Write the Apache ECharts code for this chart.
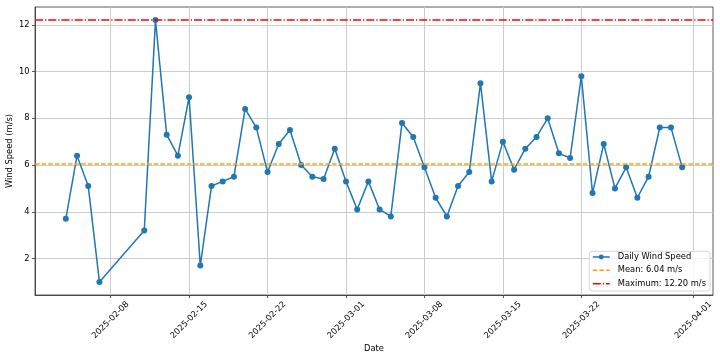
<!DOCTYPE html>
<html>
<head>
<meta charset="utf-8">
<script src="https://cdn.jsdelivr.net/npm/echarts@6/dist/echarts.min.js"></script>
<style>
html,body{margin:0;padding:0;background:#fff;}
#chart{width:720px;height:360px;}
</style>
</head>
<body>
<div id="chart"></div>
<script>
// ---- data ----
var dates = [
  '2025-02-04','2025-02-05','2025-02-06','2025-02-07',
  '2025-02-11','2025-02-12','2025-02-13','2025-02-14','2025-02-15','2025-02-16','2025-02-17',
  '2025-02-18','2025-02-19','2025-02-20','2025-02-21','2025-02-22','2025-02-23','2025-02-24',
  '2025-02-25','2025-02-26','2025-02-27','2025-02-28',
  '2025-03-01','2025-03-02','2025-03-03','2025-03-04','2025-03-05','2025-03-06','2025-03-07',
  '2025-03-08','2025-03-09','2025-03-10','2025-03-11','2025-03-12','2025-03-13','2025-03-14',
  '2025-03-15','2025-03-16','2025-03-17','2025-03-18','2025-03-19','2025-03-20','2025-03-21',
  '2025-03-22','2025-03-23','2025-03-24','2025-03-25','2025-03-26','2025-03-27','2025-03-28',
  '2025-03-29','2025-03-30','2025-03-31'
];
var windSpeed = [
  3.7, 6.4, 5.1, 1.0,
  3.2, 12.2, 7.3, 6.4, 8.9, 1.7, 5.1,
  5.3, 5.5, 8.4, 7.6, 5.7, 6.9, 7.5,
  6.0, 5.5, 5.4, 6.7,
  5.3, 4.1, 5.3, 4.1, 3.8, 7.8, 7.2,
  5.9, 4.6, 3.8, 5.1, 5.7, 9.5, 5.3,
  7.0, 5.8, 6.7, 7.2, 8.0, 6.5, 6.3,
  9.8, 4.8, 6.9, 5.0, 5.9, 4.6, 5.5,
  7.6, 7.6, 5.9
];
var meanValue = 6.04;
var maxValue = 12.20;
var xTickLabels = ['2025-02-08','2025-02-15','2025-02-22','2025-03-01','2025-03-08','2025-03-15','2025-03-22','2025-04-01'];
var yTicks = [2, 4, 6, 8, 10, 12];
var seriesNames = ['Daily Wind Speed', 'Mean: ' + meanValue.toFixed(2) + ' m/s', 'Maximum: ' + maxValue.toFixed(2) + ' m/s'];

// ---- helpers ----
var DAY = 86400000;
function toTime(s) {
  var p = s.split('-');
  return Date.UTC(+p[0], +p[1] - 1, +p[2]);
}
function pad(n) { return (n < 10 ? '0' : '') + n; }
function fmt(v) {
  var d = new Date(Math.round(v / DAY) * DAY);
  return d.getUTCFullYear() + '-' + pad(d.getUTCMonth() + 1) + '-' + pad(d.getUTCDate());
}

var times = dates.map(toTime);
var points = times.map(function (t, i) { return [t, windSpeed[i]]; });
var tMin = Math.min.apply(null, times), tMax = Math.max.apply(null, times);
var tPad = (tMax - tMin) * 0.05;
var vMin = Math.min.apply(null, windSpeed), vMax = Math.max.apply(null, windSpeed);
var vPad = (vMax - vMin) * 0.05;
var xTicks = xTickLabels.map(toTime);

var FONT = 'DejaVu Sans';
var FS = 8.33;
var dashPattern = [4.6, 2];
var dashDotPattern = [8, 2, 1.25, 2];

var chart = echarts.init(document.getElementById('chart'), null, {renderer: 'canvas'});
chart.setOption({
  animation: false,
  backgroundColor: '#fff',
  textStyle: {fontFamily: FONT},
  grid: {
    left: 35, right: 7, top: 7, bottom: 65,
    containLabel: false,
    outerBoundsMode: 'none',
    show: true, borderColor: '#333333', borderWidth: 0.8, backgroundColor: 'transparent'
  },
  legend: {
    orient: 'vertical',
    right: 10, bottom: 69,
    itemWidth: 17, itemHeight: 6, itemGap: 5,
    padding: [1.5, 4, 3.2, 2.7],
    borderColor: '#cccccc', borderWidth: 0.8, borderRadius: 3,
    backgroundColor: 'rgba(255,255,255,0.8)',
    textStyle: {fontFamily: FONT, fontSize: FS, color: '#000', padding: [0, 0, 0, 3], lineHeight: 8.33},
    lineStyle: {width: 1.5},
    data: [
      {name: seriesNames[0]},
      {name: seriesNames[1], itemStyle: {color: 'rgba(0,0,0,0)', borderColor: 'rgba(0,0,0,0)', borderWidth: 0}},
      {name: seriesNames[2], itemStyle: {color: 'rgba(0,0,0,0)', borderColor: 'rgba(0,0,0,0)', borderWidth: 0}}
    ]
  },
  xAxis: {
    type: 'value',
    min: tMin - tPad,
    max: tMax + tPad,
    name: 'Date',
    nameLocation: 'middle',
    nameGap: 50,
    nameMoveOverlap: false,
    nameTextStyle: {fontFamily: FONT, fontSize: FS, color: '#000'},
    axisLine: {show: true, onZero: false, lineStyle: {color: '#333333', width: 0.8}},
    axisTick: {show: true, length: 3, lineStyle: {color: '#333333', width: 0.8}, customValues: xTicks},
    axisLabel: {
      customValues: xTicks,
      rotate: 45, margin: 25,
      align: 'center', verticalAlign: 'middle',
      fontFamily: FONT, fontSize: FS, color: '#000',
      formatter: function (v) { return fmt(v); },
      hideOverlap: false
    },
    splitLine: {show: true, lineStyle: {color: '#cccccc', width: 1}}
  },
  yAxis: {
    type: 'value',
    min: vMin - vPad,
    max: vMax + vPad,
    name: 'Wind Speed (m/s)',
    nameLocation: 'middle',
    nameGap: 21,
    nameMoveOverlap: false,
    nameTextStyle: {fontFamily: FONT, fontSize: FS, color: '#000'},
    axisLine: {show: true, onZero: false, lineStyle: {color: '#333333', width: 0.8}},
    axisTick: {show: true, length: 3, lineStyle: {color: '#333333', width: 0.8}, customValues: yTicks},
    axisLabel: {customValues: yTicks, margin: 5.5, fontFamily: FONT, fontSize: FS, color: '#000'},
    splitLine: {show: true, lineStyle: {color: '#cccccc', width: 1}}
  },
  series: [
    {
      name: seriesNames[0],
      type: 'line',
      data: points,
      color: '#1f77b4',
      symbol: 'circle',
      symbolSize: 6,
      showSymbol: true,
      showAllSymbol: true,
      lineStyle: {color: '#1f77b4', width: 1.5},
      itemStyle: {color: '#1f77b4'},
      emphasis: {disabled: true},
      z: 3
    },
    {
      name: seriesNames[1],
      type: 'line',
      data: [],
      symbol: 'none',
      color: '#ffa500',
      lineStyle: {color: '#ffa500', width: 1.5, type: dashPattern},
      markLine: {
        silent: true, symbol: 'none', animation: false,
        label: {show: false},
        lineStyle: {color: '#ffa500', width: 1.5, type: dashPattern},
        emphasis: {disabled: true},
        data: [{yAxis: meanValue}]
      },
      z: 4
    },
    {
      name: seriesNames[2],
      type: 'line',
      data: [],
      symbol: 'none',
      color: '#ff0000',
      lineStyle: {color: '#ff0000', width: 1.5, type: dashDotPattern},
      markLine: {
        silent: true, symbol: 'none', animation: false,
        label: {show: false},
        lineStyle: {color: '#ff0000', width: 1.5, type: dashDotPattern},
        emphasis: {disabled: true},
        data: [{yAxis: maxValue}]
      },
      z: 4
    }
  ]
});
</script>
</body>
</html>
